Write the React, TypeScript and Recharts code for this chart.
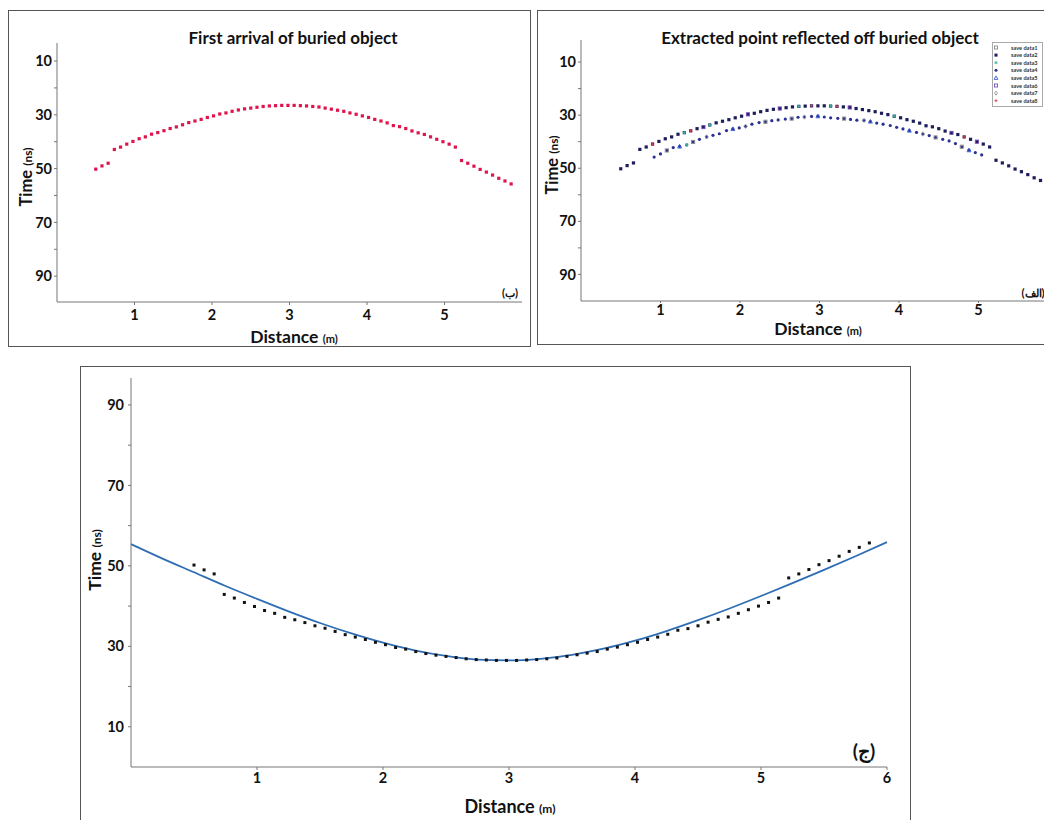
import React from 'react'
import { ScatterChart, ComposedChart, Scatter, Line, XAxis, YAxis, Legend } from 'recharts'

// first-arrival picks, distance (m) / time (ns) - used in panels ب and ج
const arrivalX = [
  0.5, 0.58, 0.66, 0.74, 0.82, 0.9, 0.98, 1.06, 1.14, 1.22, 1.3, 1.38, 1.46, 1.54, 1.62, 1.7,
  1.78, 1.86, 1.94, 2.02, 2.1, 2.18, 2.26, 2.34, 2.42, 2.5, 2.58, 2.66, 2.74, 2.82, 2.9, 2.98,
  3.06, 3.14, 3.22, 3.3, 3.38, 3.46, 3.54, 3.62, 3.7, 3.78, 3.86, 3.94, 4.02, 4.1, 4.18, 4.26,
  4.34, 4.42, 4.5, 4.58, 4.66, 4.74, 4.82, 4.9, 4.98, 5.06, 5.14, 5.22, 5.3, 5.38, 5.46, 5.54,
  5.62, 5.7, 5.78, 5.86,
]
const arrivalT = [
  50.2, 49.0, 48.0, 42.9, 42.0, 40.9, 39.9, 38.9, 38.2, 37.2, 36.6, 35.9, 35.1, 34.5, 33.7, 32.9,
  32.3, 31.7, 31.0, 30.4, 29.7, 29.3, 28.7, 28.2, 27.8, 27.5, 27.2, 26.9, 26.7, 26.6, 26.5, 26.5,
  26.5, 26.6, 26.7, 26.9, 27.1, 27.5, 27.9, 28.3, 28.7, 29.3, 29.8, 30.4, 31.0, 31.7, 32.3, 33.0,
  34.0, 34.4, 35.1, 36.0, 36.7, 37.3, 38.2, 39.1, 40.0, 40.9, 42.0, 47.0, 48.0, 49.1, 50.3, 51.3,
  52.4, 53.6, 54.6, 55.7,
]

// second (lower) reflection branch in panel الف
const lowerX = [
  0.92, 1.0, 1.08, 1.16, 1.24, 1.33, 1.41, 1.49, 1.58, 1.66, 1.74, 1.83, 1.91, 1.99, 2.07, 2.15,
  2.24, 2.32, 2.4, 2.48, 2.57, 2.65, 2.73, 2.81, 2.9, 2.98, 3.06, 3.14, 3.23, 3.31, 3.39, 3.47,
  3.56, 3.64, 3.72, 3.8, 3.89, 3.97, 4.05, 4.13, 4.22, 4.3, 4.38, 4.46, 4.55, 4.63, 4.71, 4.79,
  4.88, 4.96, 5.04,
]
const lowerT = [
  45.8, 44.6, 43.3, 42.2, 41.8, 41.2, 40.1, 39.1, 38.2, 37.6, 37.0, 35.8, 35.2, 34.8, 34.2, 33.4,
  32.8, 32.5, 32.1, 31.8, 31.5, 31.3, 30.8, 30.7, 30.5, 30.4, 30.7, 31.0, 31.2, 31.3, 31.6, 31.9,
  32.0, 32.4, 33.0, 33.4, 33.9, 34.6, 35.2, 35.8, 36.5, 37.1, 37.7, 38.4, 39.1, 39.7, 40.7, 41.9,
  43.2, 44.1, 45.0,
]

// the other saved picks that sit on top of the two branches
const set1X = [1.08, 1.41, 2.32, 2.65, 3.31, 4.46, 4.79]
const set1T = [43.3, 40.1, 32.5, 31.3, 31.3, 38.4, 41.9]
const set3X = [1.3, 1.62, 2.74, 3.14, 3.94, 1.33]
const set3T = [36.6, 33.7, 26.7, 26.6, 30.4, 41.2]
const set5X = [1.24, 1.91, 2.98, 3.64, 4.13, 4.88]
const set5T = [41.8, 35.2, 30.4, 32.4, 35.8, 43.2]
const set6X = [1.54, 2.1, 2.5, 3.38, 4.66, 4.98]
const set6T = [34.5, 29.7, 27.5, 27.1, 36.7, 40.0]
const set7X = [1.58, 2.07, 2.81, 3.56, 4.3]
const set7T = [38.2, 34.2, 30.7, 32.0, 37.1]
const set8X = [0.9, 1.38, 2.9, 3.22, 4.82]
const set8T = [40.9, 35.9, 26.5, 26.7, 38.2]

// fitted hyperbola in panel ج
const fitX = [0, 0.25, 0.5, 0.75, 1, 1.25, 1.5, 1.75, 2, 2.25, 2.5, 2.75, 3, 3.25, 3.5, 3.75, 4, 4.25, 4.5, 4.75, 5, 5.25, 5.5, 5.75, 6]
const fitT = [55.4, 51.8, 48.4, 45.0, 41.8, 38.7, 35.8, 33.2, 30.9, 29.0, 27.6, 26.7, 26.5, 26.9, 27.9, 29.4, 31.4, 33.8, 36.5, 39.4, 42.5, 45.7, 49.0, 52.4, 55.9]

const distTicksTop = [1, 2, 3, 4, 5]
const distTicksAll = [1, 2, 3, 4, 5, 6]
const timeTicks = [10, 20, 30, 40, 50, 60, 70, 80, 90]
const timeLabels = [10, 30, 50, 70, 90]

const pts = (xs: number[], ts: number[]) => xs.map((x, i) => ({ x, t: ts[i] }))

const arrivals = pts(arrivalX, arrivalT)
const lower = pts(lowerX, lowerT)
const fit = pts(fitX, fitT)

const FONT = 'Lato, "Open Sans", sans-serif'
const AXIS = '#777'
const tickStyle = { fontSize: 14.5, fontWeight: 700, fill: '#111', fontFamily: FONT }
const timeFmt = (v: number) => (timeLabels.includes(v) ? String(v) : '')

const drawMarker = (kind: string, color: string, cx: number, cy: number, s = 3.4) => {
  const h = s / 2
  switch (kind) {
    case 'sq':
      return <rect x={cx - h} y={cy - h} width={s} height={s} fill={color} />
    case 'dot':
      return <circle cx={cx} cy={cy} r={h} fill={color} />
    case 'osq':
      return <rect x={cx - h} y={cy - h} width={s} height={s} fill="none" stroke={color} strokeWidth={0.9} />
    case 'tri':
      return <path d={`M${cx},${cy - h - 0.5}L${cx + h + 0.4},${cy + h}L${cx - h - 0.4},${cy + h}Z`} fill="none" stroke={color} strokeWidth={0.9} />
    case 'dia':
      return <path d={`M${cx},${cy - h - 0.6}L${cx + h},${cy}L${cx},${cy + h + 0.6}L${cx - h},${cy}Z`} fill="none" stroke={color} strokeWidth={0.9} />
    case 'plus':
      return <path d={`M${cx - h},${cy}H${cx + h}M${cx},${cy - h}V${cy + h}`} stroke={color} strokeWidth={1} />
    case 'star':
      return <path d={`M${cx - h},${cy}H${cx + h}M${cx},${cy - h}V${cy + h}M${cx - h * 0.7},${cy - h * 0.7}L${cx + h * 0.7},${cy + h * 0.7}M${cx - h * 0.7},${cy + h * 0.7}L${cx + h * 0.7},${cy - h * 0.7}`} stroke={color} strokeWidth={0.9} />
    default:
      return <circle cx={cx} cy={cy} r={h} fill="none" stroke={color} strokeWidth={0.9} />
  }
}

const shape = (kind: string, color: string, s = 3.4) => (p: any) =>
  p.cx == null ? <g /> : drawMarker(kind, color, p.cx, p.cy, s)

const savedSets = [
  { name: 'save data1', data: pts(set1X, set1T), kind: 'osq', color: '#8a8a8a' },
  { name: 'save data2', data: arrivals, kind: 'sq', color: '#1d1d5c' },
  { name: 'save data3', data: pts(set3X, set3T), kind: 'star', color: '#3fb8a0' },
  { name: 'save data4', data: lower, kind: 'dot', color: '#2a3190' },
  { name: 'save data5', data: pts(set5X, set5T), kind: 'tri', color: '#3c5fd6' },
  { name: 'save data6', data: pts(set6X, set6T), kind: 'osq', color: '#7b4fb8' },
  { name: 'save data7', data: pts(set7X, set7T), kind: 'dia', color: '#9a9a9a' },
  { name: 'save data8', data: pts(set8X, set8T), kind: 'plus', color: '#d9465a' },
]
const drawOrder = [1, 3, 0, 2, 4, 5, 6, 7]

const SavedLegend = () => (
  <svg width={52} height={66} style={{ display: 'block' }}>
    <rect x={0.5} y={0.5} width={50} height={64} fill="#fff" stroke="#aaa" strokeWidth={1} />
    {savedSets.map((s, i) => (
      <g key={s.name}>
        {drawMarker(s.kind, s.color, 4, 5.5 + i * 7.6, 3)}
        <text x={19} y={7.5 + i * 7.6} fontSize={5.6} fontWeight={700} fill="#333" fontFamily={FONT}>
          {s.name}
        </text>
      </g>
    ))}
  </svg>
)

function Txt({ x, y, size, rot, children }: { x: number; y: number; size: number; rot?: boolean; children: React.ReactNode }) {
  return (
    <div
      style={{
        position: 'absolute',
        left: x,
        top: y,
        transform: `translate(-50%, -50%)${rot ? ' rotate(-90deg)' : ''}`,
        fontSize: size,
        fontWeight: 700,
        fontFamily: FONT,
        color: '#111',
        whiteSpace: 'nowrap',
        lineHeight: 1,
      }}
    >
      {children}
    </div>
  )
}

const Box = ({ l, t, w, h }: { l: number; t: number; w: number; h: number }) => (
  <div style={{ position: 'absolute', left: l, top: t, width: w, height: h, border: '1px solid #555', boxSizing: 'border-box' }} />
)

const TimeLabel = ({ small }: { small: number }) => (
  <>
    Time <span style={{ fontSize: small }}>(ns)</span>
  </>
)
const DistLabel = ({ small }: { small: number }) => (
  <>
    Distance <span style={{ fontSize: small }}>(m)</span>
  </>
)

export default function App() {
  return (
    <div style={{ position: 'absolute', left: 0, top: 0, width: 1044, height: 820, overflow: 'hidden', background: '#fff' }}>
      <Box l={8} t={10} w={523} h={337} />
      <Box l={537} t={10} w={540} h={335} />
      <Box l={80} t={366} w={831} h={470} />

      {/* panel ب */}
      <div style={{ position: 'absolute', left: 8, top: 10 }}>
        <ScatterChart width={522} height={336} margin={{ top: 33, right: 8, bottom: 0, left: 0 }}>
          <XAxis type="number" dataKey="x" domain={[0, 6]} ticks={distTicksTop} height={44} tickSize={3} tickMargin={5}
            tick={tickStyle} axisLine={{ stroke: AXIS }} tickLine={{ stroke: AXIS }} />
          <YAxis type="number" dataKey="t" domain={[3.3, 99.6]} reversed ticks={timeTicks} interval={0} tickFormatter={timeFmt}
            width={49} tickSize={3} tickMargin={2} tick={tickStyle} axisLine={{ stroke: AXIS }} tickLine={{ stroke: AXIS }} />
          <Scatter data={arrivals} shape={shape('sq', '#e0144c', 3.2)} isAnimationActive={false} />
        </ScatterChart>
      </div>

      {/* panel الف */}
      <div style={{ position: 'absolute', left: 537, top: 10 }}>
        <ScatterChart width={540} height={334} margin={{ top: 30, right: 19, bottom: 0, left: 0 }}>
          <XAxis type="number" dataKey="x" domain={[0, 6]} ticks={distTicksTop} height={43} tickSize={2} tickMargin={2}
            tick={tickStyle} axisLine={{ stroke: AXIS }} tickLine={{ stroke: AXIS }} />
          <YAxis type="number" dataKey="t" domain={[1.7, 100]} reversed ticks={timeTicks} interval={0} tickFormatter={timeFmt}
            width={44} tickSize={3} tickMargin={2} tick={tickStyle} axisLine={{ stroke: AXIS }} tickLine={{ stroke: AXIS }} />
          {drawOrder.map((i) => (
            <Scatter key={savedSets[i].name} name={savedSets[i].name} data={savedSets[i].data}
              shape={shape(savedSets[i].kind, savedSets[i].color, 3.2)} isAnimationActive={false} />
          ))}
          <Legend layout="vertical" align="center" verticalAlign="middle" content={SavedLegend}
            wrapperStyle={{ left: 455, top: 32, width: 52, height: 66 }} />
        </ScatterChart>
      </div>

      {/* panel ج */}
      <div style={{ position: 'absolute', left: 80, top: 366 }}>
        <ComposedChart width={830} height={454} margin={{ top: 12, right: 23, bottom: 0, left: 0 }}>
          <XAxis type="number" dataKey="x" domain={[0, 6]} ticks={distTicksAll} height={53} tickSize={3} tickMargin={3}
            tick={tickStyle} axisLine={{ stroke: AXIS }} tickLine={{ stroke: AXIS }} />
          <YAxis type="number" dataKey="t" domain={[0, 96.7]} ticks={timeTicks} interval={0} tickFormatter={timeFmt}
            width={51} tickSize={3} tickMargin={4} tick={tickStyle} axisLine={{ stroke: AXIS }} tickLine={{ stroke: AXIS }} />
          <YAxis yAxisId="r" orientation="right" type="number" domain={[0, 96.7]} ticks={timeTicks} interval={0}
            width={0} mirror tick={false} tickSize={4} axisLine={{ stroke: '#999' }} tickLine={{ stroke: '#999' }} />
          <Line data={fit} dataKey="t" type="monotone" stroke="#2f6db3" strokeWidth={1.8} dot={false} isAnimationActive={false} />
          <Scatter data={arrivals} shape={shape('sq', '#111', 3)} isAnimationActive={false} />
        </ComposedChart>
      </div>

      <Txt x={293} y={37} size={17}>First arrival of buried object</Txt>
      <Txt x={26} y={177} size={16.5} rot><TimeLabel small={12} /></Txt>
      <Txt x={294} y={337} size={17.5} rot={false}><DistLabel small={11} /></Txt>
      <Txt x={510} y={292} size={11}>(ب)</Txt>

      <Txt x={820} y={37} size={17}>Extracted point reflected off buried object</Txt>
      <Txt x={552} y={165} size={16.5} rot><TimeLabel small={12} /></Txt>
      <Txt x={818} y={329} size={17.5}><DistLabel small={11} /></Txt>
      <Txt x={1033} y={292} size={11}>(الف)</Txt>

      <Txt x={95} y={560} size={17.5} rot><TimeLabel small={12} /></Txt>
      <Txt x={510} y={806} size={18}><DistLabel small={12} /></Txt>
      <Txt x={864} y={750} size={19}>(ج)</Txt>
    </div>
  )
}
